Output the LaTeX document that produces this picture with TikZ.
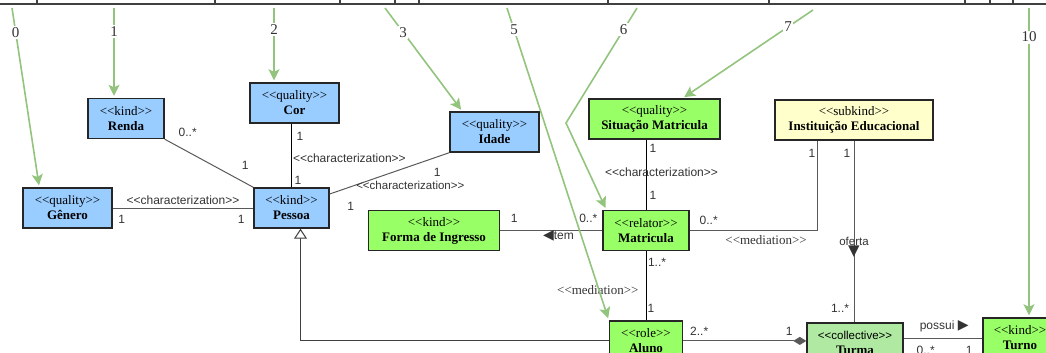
\documentclass[tikz,border=0pt]{standalone}
\usepackage{fontspec}
\setmainfont{Liberation Serif}
\newfontfamily\edgefont{Liberation Sans}
\newfontfamily\glyphfont{DejaVu Sans}
\usepackage{tikz}
\usetikzlibrary{positioning}
\usetikzlibrary{arrows.meta}
\usetikzlibrary{calc}
\definecolor{kindblue}{HTML}{99CCFF}
\definecolor{kindgreen}{HTML}{99FF66}
\definecolor{collgreen}{HTML}{B0EAA2}
\definecolor{subkindyellow}{HTML}{FFFFCC}
\definecolor{tracegreen}{HTML}{93C47D}
\tikzset{
    class diagram/.style={
            x=1pt,y=-1pt,
            class/.style={draw=black!85,line width=1.4pt,minimum height=40pt,inner sep=0pt,align=center,font=\fontsize{13}{15}\selectfont},
            assoc/.style={draw=black!65,line width=1pt},
            mult/.style={font=\edgefont\fontsize{12}{12}\selectfont,text=black!80,inner sep=0pt},
            stereo/.style={font=\edgefont\fontsize{12}{12}\selectfont,text=black!80,inner sep=1pt},
            stereoserif/.style={font=\fontsize{13}{13}\selectfont,text=black!80,inner sep=1pt},
            trace/.style={draw=tracegreen,line width=1.6pt,shorten >=2pt,-{Stealth[length=11pt,width=11pt,inset=2.5pt]}},
            tracenum/.style={fill=white,inner sep=1.5pt,text=black!80,font=\fontsize{15}{15}\selectfont}
        }
    }
\newcommand{\stereotype}[1]{\textless\kern0pt\textless#1\textgreater\kern0pt\textgreater}
\newcommand{\umlclass}[2]{\stereotype{#1}\\\textbf{#2}}

\begin{document}
\begin{tikzpicture}[class diagram]
    \useasboundingbox (0,0) rectangle (1046,353);
    \clip (0,0) rectangle (1046,353);
    \foreach \a/\b in {-5/37,37/215,215/340,340/395,395/419,419/608,608/769,769/965,965/990,990/1013,1013/1060}
        \draw[black!75,line width=1.2pt] (\a,-20) rectangle (\b,4);

    \node[class,fill=kindblue,minimum width=89pt] (cor) at (294.5,103) {\umlclass{quality}{Cor}};
    \node[class,fill=kindblue,minimum width=76pt] (renda) at (126,118.5) {\umlclass{kind}{Renda}};
    \node[class,fill=kindblue,minimum width=89pt] (idade) at (494.5,132) {\umlclass{quality}{Idade}};
    \node[class,fill=kindblue,minimum width=75pt] (pessoa) at (291.5,208) {\umlclass{kind}{Pessoa}};
    \node[class,fill=kindblue,minimum width=89pt] (genero) at (67.5,208) {\umlclass{quality}{Gênero}};
    \node[class,fill=kindgreen,minimum width=86pt] (matricula) at (646,230.5) {\umlclass{relator}{Matricula}};
    \node[class,fill=kindgreen,minimum width=131pt] (forma) [left=102pt of matricula] {\umlclass{kind}{Forma de Ingresso}};
    \node[class,fill=kindgreen,minimum width=131pt] (situacao) at (654.5,119) {\umlclass{quality}{Situação Matricula}};
    \node[class,fill=subkindyellow,minimum width=158pt] (inst) at (854,120) {\umlclass{subkind}{Instituição Educacional}};
    \node[class,fill=kindgreen,minimum width=73pt] (aluno) [below=69pt of matricula] {\umlclass{role}{Aluno}};
    \node[class,fill=collgreen,minimum width=96pt] (turma) at (855,343) {{\edgefont\fontsize{11.5}{15}\selectfont\stereotype{collective}}\\\textbf{Turma}};
    \node[class,fill=kindgreen,minimum width=74pt] (turno) at (1020,338) {\umlclass{kind}{Turno}};

    \draw[assoc] (renda.south east) -- (pessoa.north west)
        node[mult,at start,xshift=23pt,yshift=7pt] {0..*}
        node[mult,at end,xshift=-8pt,yshift=22pt] {1};
    \draw[draw=black,line width=1pt] (pessoa.north) -- (pessoa.north |- cor.south)
        node[mult,at start,xshift=6.5pt,yshift=7pt] {1}
        node[mult,at end,xshift=8.5pt,yshift=-13pt] {1}
        node[stereo,midway,right,yshift=-3pt] {\stereotype{characterization}};
    \draw[assoc] (idade.south west) -- ([yshift=14pt]pessoa.east)
        node[mult,at start,xshift=-12pt,yshift=-20pt] {1}
        node[stereo,at start,xshift=-39pt,yshift=-33pt,font=\edgefont\fontsize{11.5}{12}\selectfont] {\stereotype{characterization}}
        node[mult,at end,xshift=21pt,yshift=-12pt] {1};
    \draw[assoc] (genero.east) -- (pessoa.west)
        node[stereo,midway,above,yshift=2pt] {\stereotype{characterization}}
        node[mult,at start,xshift=9pt,yshift=-11pt] {1}
        node[mult,at end,xshift=-12pt,yshift=-11pt] {1};
    \draw[draw=black!75,line width=1pt,-{Triangle[open,length=10pt,width=13pt,fill=white]}] (aluno.west) -| ([xshift=9pt]pessoa.south);
    \draw[assoc] (forma.east) -- (matricula.west)
        node[mult,at start,xshift=14pt,yshift=12.5pt] {1}
        node[mult,at end,xshift=-14pt,yshift=12.5pt] {0..*}
        node[mult,pos=0.57,yshift=-5.5pt] {{\glyphfont\fontsize{14}{14}\selectfont ◀}tem};
    \draw[draw=black,line width=1pt] (matricula.north) -- (matricula.north |- situacao.south)
        node[mult,at end,xshift=7pt,yshift=-9pt] {1}
        node[stereo,midway,xshift=15.5pt,yshift=3pt] {\stereotype{characterization}}
        node[mult,at start,xshift=7pt,yshift=14pt] {1};
    \draw[assoc] (matricula.east) -| ([xshift=-37pt]inst.south)
        node[mult,at start,xshift=19pt,yshift=10.5pt] {0..*}
        node[mult,at end,xshift=-5pt,yshift=-13pt] {1}
        node[stereoserif,pos=0.3,below,yshift=-3.5pt] {\stereotype{mediation}};
    \draw[assoc] (inst.south) -- (inst.south |- turma.north)
        node[mult,at start,xshift=-7pt,yshift=-13pt] {1}
        node[mult,at start,yshift=-107pt,align=center,font=\edgefont\fontsize{11.5}{12}\selectfont] {oferta\\[-2pt]{\glyphfont\fontsize{15}{15}\selectfont ▼}}
        node[mult,at end,xshift=-14pt,yshift=14pt] {1..*};
    \draw[draw=black,line width=1pt] (matricula.south) -- (aluno.north)
        node[mult,at start,xshift=11pt,yshift=-11pt] {1..*}
        node[stereoserif,midway,left,xshift=-6pt,yshift=-4.5pt] {\stereotype{mediation}}
        node[mult,at end,xshift=5pt,yshift=12pt] {1};
    \draw[assoc,-{Diamond[length=13pt,width=8pt]}] (aluno.east) -- (aluno.east -| turma.west)
        node[mult,at start,xshift=16pt,yshift=10pt] {2..*}
        node[mult,at end,xshift=-17pt,yshift=10pt] {1};
    \draw[assoc] (turma.east |- turno.west) -- (turno.west)
        node[mult,at start,xshift=40.5pt,yshift=12pt] {possui {\glyphfont\fontsize{14}{14}\selectfont ▶}}
        node[mult,at start,xshift=22pt,yshift=-12pt] {0..*}
        node[mult,at end,xshift=-13pt,yshift=-12pt] {1};

    \coordinate (t0) at (12,8);
    \coordinate (t1) at (114,8);
    \coordinate (t2) at (274,8);
    \coordinate (t3) at (385,8);
    \coordinate (t5) at (507,8);
    \coordinate (t6) at (637,8);
    \coordinate (k6) at (566,123);
    \coordinate (t7) at (813,10);
    \coordinate (t10) at (1029,8);
    \draw[trace] (t0) -- node[tracenum,pos=0.136] {0} ([xshift=17pt]genero.north west);
    \draw[trace] (t1) -- node[tracenum,pos=0.26] {1} ([xshift=-12pt]renda.north);
    \draw[trace] (t2) -- node[tracenum,pos=0.29] {2} ([xshift=-20.5pt]cor.north);
    \draw[trace] (t3) -- node[tracenum,pos=0.235] {3} ([xshift=13pt]idade.north west);
    \draw[trace] (t5) -- node[tracenum,pos=0.07] {5} (aluno.north west);
    \draw[trace] (t6) -- node[tracenum,pos=0.19] {6} (k6) -- ([xshift=4pt]matricula.north west);
    \draw[trace] (t7) -- node[tracenum,pos=0.19] {7} ([xshift=28pt]situacao.north);
    \draw[trace] (t10) -- node[tracenum,pos=0.094] {10} ([xshift=9pt]turno.north);
\end{tikzpicture}
\end{document}
